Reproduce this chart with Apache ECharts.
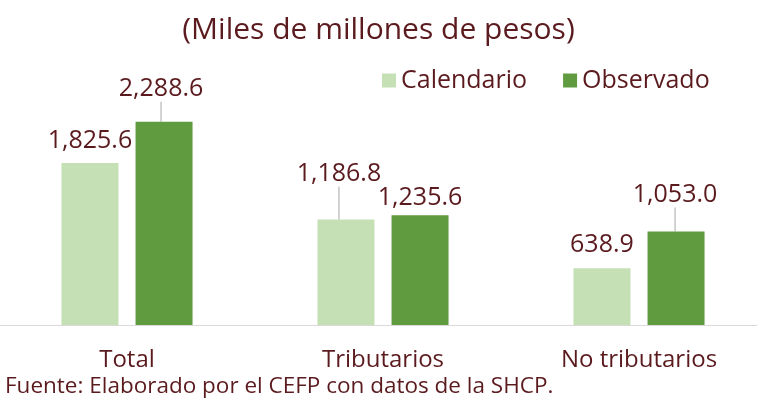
<!DOCTYPE html>
<html>
<head>
<meta charset="utf-8">
<script src="https://cdn.jsdelivr.net/npm/echarts@6/dist/echarts.min.js"></script>
<style>
  html, body { margin: 0; padding: 0; background: #fff; }
  #chart { width: 757px; height: 400px; }
</style>
</head>
<body>
<div id="chart"></div>
<script>
// 数据
const categories = ['Total', 'Tributarios', 'No tributarios'];
const calendario = [1825.6, 1186.8, 638.9];
const observado = [2288.6, 1235.6, 1053.0];
const seriesNames = ['Calendario', 'Observado'];

// 标签偏移 (dx, dy) 与是否显示引导线
const labelShift = [
  [[0, -5], [-7, -28], [0, -6]],
  [[-3, -15], [0, 0], [-1, -19]]
];
const guideLine = [
  [false, true, false],
  [true, false, true]
];

const textColor = '#5b1a1e';
const fontFamily = '"Open Sans", "Noto Sans", sans-serif';

const fmt = (v) => v.toLocaleString('en-US', { minimumFractionDigits: 1, maximumFractionDigits: 1 });

const buildData = (values, s) => values.map((v, i) => ({
  value: v,
  labelLine: { show: guideLine[s][i] }
}));

const chart = echarts.init(document.getElementById('chart'));

const barSeries = (name, values, color, s) => ({
  name,
  type: 'bar',
  data: buildData(values, s),
  barWidth: 57,
  barGap: '30%',
  itemStyle: { color },
  label: {
    show: true,
    position: 'top',
    distance: 5,
    color: textColor,
    fontSize: 25,
    fontFamily,
    formatter: (p) => fmt(p.value)
  },
  labelLine: {
    lineStyle: { color: '#a6a6a6', width: 1 }
  },
  labelLayout: (p) => {
    const sh = labelShift[p.seriesIndex][p.dataIndex];
    return { dx: sh[0], dy: sh[1] };
  }
});

const option = {
  animation: false,
  backgroundColor: '#fff',
  title: {
    text: '(Miles de millones de pesos)',
    left: 'center',
    top: 10,
    textStyle: { color: textColor, fontSize: 30, fontWeight: 'normal', fontFamily }
  },
  legend: {
    data: seriesNames,
    left: 377,
    top: 63,
    itemWidth: 14,
    itemHeight: 14,
    itemGap: 36,
    icon: 'rect',
    textStyle: { color: textColor, fontSize: 25, fontFamily }
  },
  grid: {
    left: -1,
    right: -10,
    top: 103,
    bottom: 75,
    outerBoundsMode: 'none',
    containLabel: false
  },
  xAxis: {
    type: 'category',
    data: categories,
    axisLine: { lineStyle: { color: '#d9d9d9', width: 1 } },
    axisTick: { show: false },
    axisLabel: { color: textColor, fontSize: 24, fontFamily, margin: 23 }
  },
  yAxis: {
    type: 'value',
    min: 0,
    max: 2500,
    show: false,
    splitLine: { show: false }
  },
  graphic: [
    {
      type: 'text',
      left: 5,
      top: 375,
      style: {
        text: 'Fuente: Elaborado por el CEFP con datos de la SHCP.',
        fill: textColor,
        fontSize: 22.5,
        fontFamily
      }
    }
  ],
  series: [
    barSeries(seriesNames[0], calendario, '#c5e0b4', 0),
    barSeries(seriesNames[1], observado, '#609b3f', 1)
  ]
};

chart.setOption(option);
window.addEventListener('resize', () => chart.resize());
</script>
</body>
</html>
